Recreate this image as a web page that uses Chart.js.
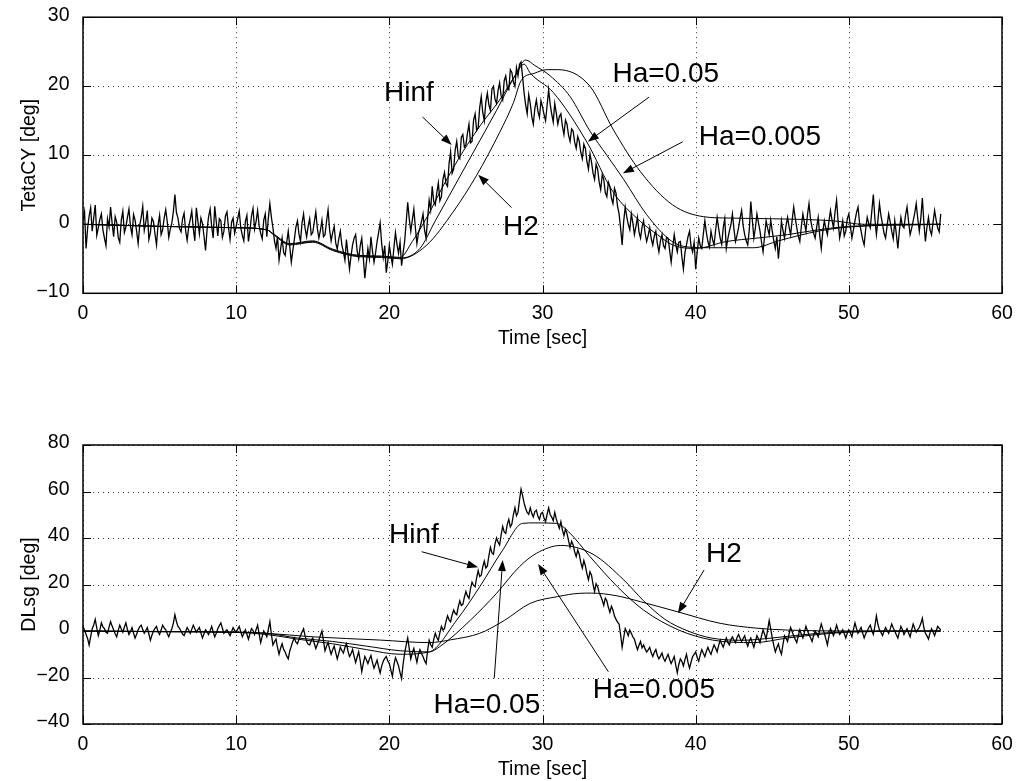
<!DOCTYPE html>
<html>
<head>
<meta charset="utf-8">
<script src="https://cdn.jsdelivr.net/npm/chart.js@4.4.1/dist/chart.umd.min.js"></script>
<style>
  body { margin: 0; background: #fff; overflow: hidden; }
  canvas { position: absolute; left: 0; }
  #tetaChart { top: 0; }
  #dlsgChart { top: 377px; }
</style>
</head>
<body>
<canvas id="tetaChart" width="1017" height="380"></canvas>
<canvas id="dlsgChart" width="1017" height="404"></canvas>
<script>
// sample spacing of the measured (noisy) traces, seconds
const dt = 0.1;

// TetaCY, measured / Hinf trace, one value every 0.1 s from 0 to 56 s (one row = 5 s)
const tetaMeas = [
  0.5, 1.8, -3.5, -0.6, 1.2, 2.4, -1.0, 0.9, 2.8, -1.6, -0.5, 0.7, 1.5, -0.8, -2.0, -3.1, 0.8, -0.4, 2.5, 0.2, -1.8, 1.1, 0.3, -1.9, -2.6, 0.6, 1.9, -1.2, -0.4, 1.0, 2.2, -0.3, -1.5, 1.4, 0.6, -1.0, -2.8, -0.2, 1.0, 2.6, -0.9, 0.3, 2.0, -2.2, -1.2, 0.9, 0.4, -1.4, -3.0, -0.1,
  1.3, -1.5, -0.8, 0.9, 2.1, 0.4, -1.9, -0.7, 0.2, 1.8, 4.3, 1.7, 0.9, -0.6, -1.1, 0.8, 1.6, -0.9, -2.3, -0.4, 0.7, 1.9, -0.6, -2.4, 2.4, 0.5, -1.4, 0.9, 0.1, -1.7, -3.8, -0.8, 1.1, 2.2, -0.3, -2.0, 2.6, 0.4, -1.7, 0.8, 0.5, -1.9, -1.0, 1.2, 1.8, -0.5, -2.2, 0.3, 0.9, -1.3,
  -0.3, 0.8, 1.9, -0.5, -1.6, -2.4, 0.4, 1.3, -2.5, -0.9, 1.2, 2.3, -0.7, 0.4, 2.0, -0.2, -1.3, -2.1, 0.6, 1.5, -1.8, 0.9, 3.0, 1.0, -0.5, -2.4, -3.5, -1.8, -5.2, -3.6, -2.0, -4.1, -4.5, -2.6, -1.0, -3.2, -5.5, -3.8, -2.2, -0.4, 0.5, -1.4, -2.5, 0.2, 1.5, -0.6, -1.8, -0.3, 0.8, -1.5,
  -1.2, 0.3, 1.8, -0.6, -2.0, -0.9, 0.6, -1.8, -1.5, 0.4, 2.1, -0.8, -2.4, -1.2, -0.3, -2.7, -3.6, -2.1, -1.0, -3.0, -4.0, -5.2, -2.2, -4.4, -6.5, -4.6, -3.0, -2.0, -1.5, -3.9, -5.0, -3.1, -2.0, -4.8, -7.8, -5.6, -3.5, -5.0, -1.8, -3.9, -5.5, -4.2, -2.5, -1.2, 0.2, -2.8, -4.8, -3.1, -7.0, -5.3,
  -3.0, -4.6, -5.8, -3.4, -1.2, -2.9, -4.2, -2.6, -6.0, -4.1, -2.5, 0.3, 3.2, 0.8, -1.0, 0.6, 2.2, -0.5, -2.8, -1.3, -0.5, 0.4, 1.5, -0.9, -2.0, 0.9, 3.5, 2.1, 5.5, 3.3, 2.8, 4.6, 6.0, 3.4, 4.0, 6.5, 7.5, 5.9, 5.5, 8.8, 10.5, 7.4, 8.0, 10.8, 12.0, 9.8, 9.5, 12.6, 13.0, 11.2,
  11.5, 13.2, 14.5, 11.8, 12.0, 15.1, 16.0, 13.6, 14.0, 16.9, 18.5, 16.2, 15.0, 17.7, 19.0, 17.3, 16.5, 19.6, 20.0, 18.1, 17.5, 19.4, 20.5, 18.6, 18.0, 20.8, 21.5, 19.8, 19.5, 22.4, 22.0, 20.6, 20.0, 22.7, 21.5, 23.2, 23.5, 21.4, 19.0, 17.3, 16.0, 18.8, 17.5, 15.6, 14.5, 16.8, 18.0, 16.4, 15.5, 17.9,
  17.0, 15.9, 15.0, 17.2, 19.5, 17.4, 16.0, 14.8, 17.5, 16.1, 14.5, 15.6, 16.0, 14.2, 13.0, 15.1, 14.5, 12.9, 12.0, 13.8, 13.5, 11.9, 11.0, 12.7, 12.0, 10.4, 9.5, 11.6, 11.0, 9.1, 8.0, 10.2, 9.0, 7.4, 6.5, 8.7, 8.0, 6.1, 5.0, 7.2, 6.5, 4.6, 4.0, 6.1, 5.5, 3.8, 3.0, 5.2, 4.5, 2.6,
  1.5, -0.6, -3.0, 0.4, 2.5, 1.1, 0.0, -0.8, 1.5, 0.2, -1.5, -0.3, 1.0, -1.1, -2.0, -0.4, 0.5, -1.3, -2.5, -1.6, -0.5, -2.1, -3.0, -1.7, -1.0, -2.8, -4.0, -2.4, -1.5, -3.1, -3.5, -1.9, -2.0, -3.8, -5.5, -3.4, -1.5, -2.9, -4.0, -2.6, -2.5, -4.7, -6.5, -4.1, -3.0, -1.8, -1.0, -3.2, -4.0, -2.6,
  -6.5, -4.0, -2.0, -3.1, -3.5, -1.4, 0.5, -1.2, -2.5, -3.3, -1.0, -2.2, -3.0, -0.9, 1.0, -0.6, -2.0, -2.9, -0.5, 0.8, -3.5, -2.1, -1.0, -0.1, 1.5, -0.7, -2.5, -1.6, -0.5, 0.9, 2.0, -0.2, -1.5, -2.4, -3.0, -0.8, 3.3, 0.6, -2.0, -0.5, 1.5, 0.2, -1.0, -2.6, -4.0, -1.7, 0.5, -0.6, -1.5, 0.6,
  -1.0, -2.4, -3.5, -1.8, -5.0, -2.6, 0.5, -0.9, -2.0, -0.2, 1.0, -0.4, -1.5, 0.6, 2.5, 0.9, -0.5, -1.7, -2.5, -0.3, 1.5, 0.2, -1.0, 1.4, 3.0, 0.7, -0.5, -1.3, -2.0, -0.4, 1.0, -1.6, -3.5, -1.1, 0.5, -0.6, -1.5, 0.4, 2.0, 0.6, -0.5, 1.8, 3.5, 0.4, -2.0, -0.8, 0.5, -1.7, -1.0, 0.8,
  1.5, -0.3, -2.0, -0.8, 0.5, 1.7, 2.5, 0.2, -1.0, -2.2, -3.0, -0.7, 1.0, 0.1, -0.5, 1.9, 4.3, 0.8, -1.5, 0.6, 3.0, 1.2, 0.0, -1.3, -2.0, -0.2, 1.5, 0.3, -1.0, -2.1, 0.5, -1.4, -3.5, -0.9, 1.0, -0.2, -0.5, 1.3, 2.5, 0.4, -1.5, -0.6, 0.5, 1.6, 3.0, 0.8, -1.0, 0.9, 3.8, 0.2,
  -2.5, -0.4, 1.0, -0.8, -1.5, 0.3, 2.0, 0.6, -0.5, -1.1, 1.5
];

// TetaCY, smooth estimator traces
const tetaA_t = [0, 5, 10, 12, 12.5, 13.5, 15, 16.3, 18, 19.5, 20.7, 21.5, 22.5, 23.5, 24.8, 26, 27.2, 28.2, 28.8, 29.2, 30.7, 32.9, 34.6, 36.4, 37.5, 38.5, 40, 42, 44, 46, 48, 50, 56];
const tetaA_y = [0, -0.3, -0.5, -0.8, -1.5, -2.8, -2.4, -3.6, -4.5, -4.6, -4.8, -2.5, 1.2, 5.5, 10.5, 14.5, 18, 21.5, 23.2, 21.9, 19.1, 11.9, 4.7, 0.4, -1.5, -3, -3.5, -2.5, -2, -1.5, -0.8, -0.3, 0];
const tetaB_t = [0, 5, 10, 12, 12.5, 13.5, 15, 16.3, 18, 19.5, 20.7, 22, 23, 23.7, 25.5, 27, 28.2, 28.9, 29.5, 30.5, 31.8, 33.1, 34.2, 35.3, 36.8, 38.4, 39.5, 41, 43.8, 45.4, 48, 50, 56];
const tetaB_y = [0, -0.3, -0.5, -0.8, -1.6, -2.9, -2.5, -3.7, -4.6, -4.7, -4.9, -3.5, 0.5, 3.3, 10.5, 16.5, 21.5, 23.8, 23, 21.5, 18.5, 13.5, 10, 6.5, 1.4, -2.4, -3.3, -3.4, -3.4, -2.4, -1, -0.4, 0];
const tetaC_t = [0, 5, 10, 12, 12.5, 13.5, 15, 16.3, 18, 19.5, 20.7, 22.4, 24.2, 25.7, 27.2, 28.1, 28.6, 29.5, 30.3, 31, 33.1, 34.6, 36.4, 38.5, 40.5, 42.2, 45, 47, 49, 51, 56];
const tetaC_y = [0, -0.3, -0.5, -0.8, -1.6, -3, -2.6, -3.8, -4.7, -4.8, -5, -3.1, 1.9, 7.1, 13.3, 17.6, 20.8, 21.9, 22.4, 22.4, 20, 13.8, 7.6, 2.8, 1.1, 0.9, 0.8, 0.7, 0.5, 0, 0];

// DLsg, measured / Hinf trace, one value every 0.1 s from 0 to 56 s (one row = 5 s)
const dlsgMeas = [
  2.0, 0.3, -1.5, -3.2, -6.0, -2.4, 1.0, 2.6, 5.0, 1.2, -2.0, 0.4, 3.5, 1.8, 1.0, -0.6, -1.0, 1.7, 4.0, 2.1, 0.5, -1.2, -2.5, 0.3, 2.5, 0.9, -0.5, 1.6, 3.5, 0.7, -1.5, -0.2, 1.5, -0.9, -3.0, -1.4, 0.5, 1.8, 2.5, 0.6, -1.0, 0.2, 1.5, -1.3, -4.0, -1.8, 0.0, 1.1, 2.0, -0.3,
  -1.5, 0.4, 2.5, 1.3, 0.5, -1.1, -2.5, -0.6, 1.0, 3.4, 7.0, 4.1, 2.0, 1.1, 0.0, -1.3, -2.0, -0.2, 1.5, 0.3, -1.0, 0.7, 2.5, 1.0, -0.5, 0.6, 1.5, -0.9, -3.0, -1.2, 0.5, -0.4, -1.5, 0.1, 2.0, -0.3, -2.5, -1.0, 1.0, 2.3, 3.5, 1.2, -1.0, -0.1, 0.5, -0.8, -2.0, -0.3, 1.5, 0.2,
  -0.5, 0.8, 2.0, -0.4, -2.5, -1.1, 0.5, -1.4, -3.5, -1.2, 1.0, 0.2, -1.5, 0.6, 2.5, -1.3, -5.0, -2.3, 0.0, -1.2, -2.5, 0.7, 4.0, -1.5, -6.0, -4.6, -3.5, -7.2, -10.0, -7.4, -5.5, -7.9, -9.0, -10.8, -12.0, -8.6, -6.5, -4.4, -3.0, -4.8, -5.5, -3.6, -2.0, -0.4, 1.0, -2.1, -4.5, -5.7, -6.0, -4.2,
  -3.0, -5.4, -7.5, -5.8, -4.0, -1.9, 0.0, -4.1, -8.5, -6.6, -5.0, -7.7, -10.0, -8.1, -6.5, -9.3, -12.0, -9.6, -7.0, -8.4, -9.5, -7.1, -5.5, -8.6, -11.0, -9.8, -8.0, -10.9, -13.5, -11.2, -9.0, -12.8, -17.5, -13.9, -11.0, -12.4, -14.0, -12.1, -10.5, -13.6, -16.0, -14.3, -12.5, -15.4, -18.0, -15.1, -13.0, -11.8, -11.0, -12.9,
  -14.0, -16.8, -19.5, -14.6, -11.5, -13.1, -15.0, -17.9, -20.5, -14.2, -9.5, -6.1, -3.0, -7.6, -12.0, -9.4, -7.5, -10.6, -13.5, -10.1, -8.0, -9.7, -11.0, -12.8, -14.0, -8.3, -4.0, -5.9, -7.0, -3.6, -1.0, -2.8, -4.0, -0.7, 2.0, 0.4, 1.0, 4.1, 6.5, 4.8, 4.0, 6.9, 9.0, 7.6, 7.0, 10.4, 13.0, 11.0, 11.5, 14.6,
  17.0, 15.1, 14.0, 18.2, 21.0, 19.6, 19.0, 22.9, 26.0, 23.4, 24.0, 27.6, 30.0, 27.1, 28.0, 32.4, 36.0, 33.6, 33.0, 37.5, 40.0, 38.2, 37.0, 41.3, 45.0, 42.6, 42.0, 45.9, 48.0, 44.8, 46.0, 50.1, 53.0, 49.6, 51.0, 56.4, 61.0, 58.2, 55.0, 52.7, 51.0, 50.2, 53.0, 50.6, 49.0, 51.4, 52.0, 49.3, 48.0, 50.5,
  51.0, 48.6, 47.0, 50.2, 53.0, 50.1, 49.0, 47.4, 51.0, 48.2, 46.0, 44.1, 47.0, 43.5, 41.0, 43.8, 42.0, 38.9, 36.0, 38.6, 37.0, 34.1, 32.0, 34.8, 33.0, 29.5, 27.0, 30.3, 28.0, 24.6, 22.0, 25.4, 24.0, 20.1, 17.0, 20.3, 19.0, 16.5, 15.0, 13.2, 11.0, 14.1, 13.0, 10.2, 8.0, 10.6, 9.0, 6.4, 5.0, 3.8,
  3.0, -1.6, -7.0, -2.9, 1.0, -0.3, -2.0, 0.4, -1.0, -2.6, -3.5, -5.9, -8.0, -6.1, -4.5, -7.3, -6.0, -7.7, -9.0, -8.1, -7.0, -9.4, -11.0, -9.2, -8.0, -10.6, -12.0, -10.8, -9.5, -11.7, -13.0, -11.4, -10.0, -12.3, -14.0, -12.6, -11.0, -14.7, -18.0, -14.4, -12.0, -13.1, -15.0, -12.3, -10.0, -13.5, -16.0, -13.4, -11.0, -10.1,
  -9.0, -11.4, -13.0, -10.2, -8.0, -9.6, -11.0, -8.7, -7.0, -8.8, -10.0, -7.9, -6.0, -7.3, -9.0, -6.2, -4.0, -5.6, -7.0, -4.8, -3.0, -4.9, -6.0, -3.7, -2.5, -3.9, -5.0, -2.8, -1.5, -3.1, -4.5, -3.2, -2.0, -4.6, -6.5, -4.3, -3.0, -5.1, -7.0, -4.4, -2.0, -3.3, -5.0, -2.1, 0.5, -1.4, -3.5, 0.6, 4.5, 0.9,
  -3.0, -6.2, -9.0, -7.1, -5.5, -8.2, -10.0, -5.8, -2.0, -3.1, -4.5, -1.2, 1.5, -0.3, -2.0, -3.6, -5.0, -2.1, 0.5, -1.4, -3.0, -0.6, 2.0, 0.1, -1.5, -2.9, -4.5, -2.0, 0.0, -1.1, -2.5, 0.4, 3.0, 0.8, -1.0, -3.4, -6.0, -2.3, 1.0, -0.4, -2.0, 0.1, 2.5, 0.3, -1.5, -0.6, 0.5, -1.2, -3.0, -0.9,
  0.5, -0.9, -2.5, 0.6, 3.5, 1.1, -1.0, 0.3, 1.5, -0.8, -3.0, -1.2, 0.0, 1.4, 2.5, 0.2, -1.5, 2.1, 6.5, 2.8, 0.5, -0.6, -2.0, -0.1, 1.5, 0.2, -1.0, 0.9, 3.0, 1.3, 0.0, -1.6, -3.0, -0.4, 2.0, 0.5, -1.5, -0.2, 1.0, -0.9, -2.5, 0.4, 3.0, 1.1, -0.5, 0.6, 1.5, 3.2, 5.5, 1.4,
  -1.0, -2.1, -3.5, -0.8, 1.0, -0.4, -2.0, 0.1, 2.0, 1.2, 0.5
];

// DLsg, smooth estimator traces
const dlsgP_t = [0, 5, 10, 12, 14, 16.3, 18.5, 20.7, 22.6, 24.4, 25.9, 27.4, 28.7, 29.5, 30.9, 31.7, 33.1, 34.9, 36.6, 38.9, 41.1, 43.8, 46, 48, 50, 56];
const dlsgP_y = [0, -0.3, -0.6, -1.5, -3.5, -5.5, -8, -10, -9, 4.7, 19, 34.8, 46.3, 46.5, 46.3, 42.7, 32, 19, 9, 0.4, -3.9, -5, -3, -1.5, -0.5, 0];
const dlsgQ_t = [0, 5, 10, 12, 14, 16.3, 18.5, 20.7, 22.6, 23.3, 25.3, 27, 28.5, 29.6, 31.2, 33.3, 35.3, 36.6, 38, 39.5, 41, 43, 45, 48, 52, 56];
const dlsgQ_y = [0, -0.3, -0.5, -1, -3, -4.5, -6.5, -8.5, -9, -6.7, 4.7, 16.2, 27.7, 33.4, 36.8, 33, 22, 13, 5, 0, -3, -4, -3, -1, 0, 0];
const dlsgR_t = [0, 5, 10, 12, 15, 19.4, 22.6, 24, 25.9, 27.5, 29.2, 31, 32.4, 33.2, 34.8, 36.4, 38.8, 41.6, 44, 46, 50, 56];
const dlsgR_y = [0, -0.2, -0.5, -1, -2.5, -3.9, -5, -3.8, -1, 4.5, 11.9, 14.8, 16.2, 16.3, 15.2, 12.6, 8.3, 3.3, 1.2, 0.4, 0, 0];

// annotation labels: text position and arrow start/end, in data units
const tetaNotes = [
  { text: 'Hinf', tx: 21.28, ty: 19.27, fx: 22.17, fy: 15.54, ax: 24.07, ay: 11.49 },
  { text: 'H2', tx: 28.59, ty: -0.07, fx: 27.98, fy: 2.41, ax: 25.80, ay: 7.19 },
  { text: 'Ha=0.05', tx: 38.05, ty: 21.99, fx: 36.95, fy: 18.41, ax: 32.96, ay: 11.96 },
  { text: 'Ha=0.005', tx: 44.19, ty: 12.97, fx: 39.16, fy: 11.96, ax: 35.25, ay: 7.38 }
];
const dlsgNotes = [
  { text: 'Hinf', tx: 21.61, ty: 42.15, fx: 22.11, fy: 34.1, ax: 25.80, ay: 27.4 },
  { text: 'Ha=0.05', tx: 26.37, ty: -30.97, fx: 26.85, fy: -20.34, ax: 27.40, ay: 30.54 },
  { text: 'Ha=0.005', tx: 37.27, ty: -24.52, fx: 34.30, fy: -17.51, ax: 29.71, ay: 28.82 },
  { text: 'H2', tx: 41.84, ty: 33.98, fx: 40.55, fy: 26.24, ax: 38.84, ay: 7.61 }
];

const FONT = "'Liberation Sans', Arial, Helvetica, sans-serif";

function pts(t, v) {
  return t.map((tt, i) => ({ x: tt, y: v[i] }));
}
const sampleTimes = n => Array.from({ length: n }, (_, i) => Math.round(i * dt * 10) / 10);

function noisy(values) {
  return { data: pts(sampleTimes(values.length), values), borderColor: '#000', borderWidth: 1.3, pointRadius: 0, tension: 0 };
}
function smooth(t, v) {
  return { data: pts(t, v), borderColor: '#000', borderWidth: 1, pointRadius: 0, cubicInterpolationMode: 'monotone' };
}

function drawArrow(ctx, x0, y0, x1, y1) {
  const ang = Math.atan2(y1 - y0, x1 - x0);
  const L = 11, W = 4;
  const c = Math.cos(ang), s = Math.sin(ang);
  ctx.beginPath();
  ctx.moveTo(x0, y0);
  ctx.lineTo(x1 - L * 0.7 * c, y1 - L * 0.7 * s);
  ctx.stroke();
  ctx.beginPath();
  ctx.moveTo(x1, y1);
  ctx.lineTo(x1 - L * c + W * s, y1 - L * s - W * c);
  ctx.lineTo(x1 - L * c - W * s, y1 - L * s + W * c);
  ctx.closePath();
  ctx.fill();
}

// dotted grid, boxed axes with inward ticks, and the arrow labels
const framePlugin = {
  id: 'frame',
  beforeDatasetsDraw(chart) {
    const { ctx, chartArea: a, scales: { x, y } } = chart;
    ctx.save();
    ctx.strokeStyle = '#333';
    ctx.lineWidth = 1;
    ctx.setLineDash([1, 4]);
    ctx.beginPath();
    x.ticks.forEach(t => {
      const px = Math.round(x.getPixelForValue(t.value)) + 0.5;
      ctx.moveTo(px, a.top);
      ctx.lineTo(px, a.bottom);
    });
    y.ticks.forEach(t => {
      const py = Math.round(y.getPixelForValue(t.value)) + 0.5;
      ctx.moveTo(a.left, py);
      ctx.lineTo(a.right, py);
    });
    ctx.stroke();
    ctx.restore();
  },
  afterDatasetsDraw(chart, args, opts) {
    const { ctx, chartArea: a, scales: { x, y } } = chart;
    ctx.save();
    ctx.strokeStyle = '#000';
    ctx.fillStyle = '#000';
    ctx.lineWidth = 1.5;
    ctx.strokeRect(a.left, a.top, a.right - a.left, a.bottom - a.top);

    const tk = 8;
    ctx.lineWidth = 1;
    ctx.beginPath();
    x.ticks.forEach(t => {
      const px = Math.round(x.getPixelForValue(t.value)) + 0.5;
      ctx.moveTo(px, a.bottom); ctx.lineTo(px, a.bottom - tk);
      ctx.moveTo(px, a.top); ctx.lineTo(px, a.top + tk);
    });
    y.ticks.forEach(t => {
      const py = Math.round(y.getPixelForValue(t.value)) + 0.5;
      ctx.moveTo(a.left, py); ctx.lineTo(a.left + tk, py);
      ctx.moveTo(a.right, py); ctx.lineTo(a.right - tk, py);
    });
    ctx.stroke();

    ctx.font = '28px ' + FONT;
    ctx.textAlign = 'center';
    ctx.textBaseline = 'alphabetic';
    (opts.notes || []).forEach(n => {
      ctx.fillText(n.text, x.getPixelForValue(n.tx), y.getPixelForValue(n.ty) + 10);
      drawArrow(ctx, x.getPixelForValue(n.fx), y.getPixelForValue(n.fy),
                x.getPixelForValue(n.ax), y.getPixelForValue(n.ay));
    });
    ctx.restore();
  }
};

function makeChart(id, datasets, yMin, yMax, yStep, yTitle, notes, padTop, padBottom, xHeight) {
  return new Chart(document.getElementById(id), {
    type: 'line',
    data: { datasets },
    options: {
      responsive: false,
      animation: false,
      events: [],
      layout: { padding: { top: padTop, right: 15, bottom: padBottom, left: 0 } },
      plugins: {
        legend: { display: false },
        tooltip: { enabled: false },
        frame: { notes }
      },
      scales: {
        x: {
          type: 'linear', min: 0, max: 60,
          grid: { display: false },
          border: { display: false },
          ticks: { stepSize: 10, padding: 1, color: '#000', maxRotation: 0, autoSkip: false, font: { family: FONT, size: 19.5 } },
          title: { display: true, text: 'Time [sec]', color: '#000', font: { family: FONT, size: 19.5 }, padding: { top: 0, bottom: 0 } },
          afterFit: s => { s.height = xHeight; }
        },
        y: {
          type: 'linear', min: yMin, max: yMax,
          grid: { display: false },
          border: { display: false },
          ticks: {
            stepSize: yStep, padding: 5.5, labelOffset: -2, color: '#000', font: { family: FONT, size: 19.5 },
            callback: v => String(v).replace('-', '\u2212')
          },
          title: { display: true, text: yTitle, color: '#000', font: { family: FONT, size: 19.5 }, padding: { top: 18, bottom: 0 } },
          afterFit: s => { s.width = 83; }
        }
      }
    },
    plugins: [framePlugin]
  });
}

makeChart('tetaChart', [
  noisy(tetaMeas),
  smooth(tetaA_t, tetaA_y),
  smooth(tetaB_t, tetaB_y),
  smooth(tetaC_t, tetaC_y)
], -10, 30, 10, 'TetaCY [deg]', tetaNotes, 14, 29.3, 57.4);

makeChart('dlsgChart', [
  noisy(dlsgMeas),
  smooth(dlsgP_t, dlsgP_y),
  smooth(dlsgQ_t, dlsgQ_y),
  smooth(dlsgR_t, dlsgR_y)
], -40, 80, 20, 'DLsg [deg]', dlsgNotes, 68, 0, 57);
</script>
</body>
</html>
